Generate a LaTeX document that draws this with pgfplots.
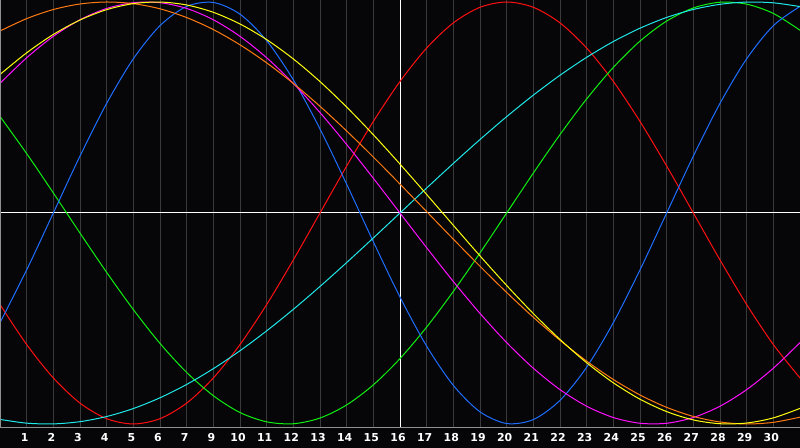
\documentclass[border=0pt]{standalone}
\usepackage{pgfplots}
\pgfplotsset{compat=1.18}
\usepackage{fontspec}
\setmainfont{DejaVu Sans}

\definecolor{bg}{HTML}{060609}
\definecolor{gridgray}{HTML}{3A3A3A}
\definecolor{framegray}{HTML}{909090}
\definecolor{cred}{HTML}{FF1010}
\definecolor{cgreen}{HTML}{10F010}
\definecolor{cblue}{HTML}{1E6EFF}
\definecolor{ccyan}{HTML}{20E8E8}
\definecolor{cmagenta}{HTML}{FF10FF}
\definecolor{cyellow}{HTML}{FFFF10}
\definecolor{corange}{HTML}{FF7A10}

\begin{document}
\begin{tikzpicture}
\path[use as bounding box] (0,-15pt) rectangle (600pt,321pt);
\fill[bg] (0,-15pt) rectangle (600pt,321pt);

\begin{axis}[%
at={(0,0)}, anchor=south west,
width=600pt, height=321pt,
scale only axis,
xmin=0, xmax=30,
ymin=-1.019, ymax=1.0095,
axis line style={draw=none},
xtick={1,...,29},
xticklabels={1,2,3,4,5,6,7,9,10,11,12,13,14,15,16,17,18,19,20,21,22,23,24,25,26,27,28,29,30},
ytick=\empty,
major tick length=0pt,
xmajorgrids,
grid style={gridgray, line width=0.75pt},
xticklabel style={anchor=center, yshift=-6.9pt, xshift=-1.5pt, text=white, font=\bfseries\fontsize{8.2}{8.2}\selectfont},
every axis plot/.append style={line width=0.75pt, smooth, no markers},
]

% axis cross
\addplot[white, sharp plot] coordinates {(15,-1.1)(15,1.1)};
\addplot[white, sharp plot] coordinates {(0,0)(30,0)};

% red, period 28
\addplot[cred] coordinates {
(0,-0.4339)(1,-0.6235)(2,-0.7818)(3,-0.9010)(4,-0.9749)(5,-1.0000)(6,-0.9749)(7,-0.9010)
(8,-0.7818)(9,-0.6235)(10,-0.4339)(11,-0.2225)(12,0.0000)(13,0.2225)(14,0.4339)(15,0.6235)
(16,0.7818)(17,0.9010)(18,0.9749)(19,1.0000)(20,0.9749)(21,0.9010)(22,0.7818)(23,0.6235)
(24,0.4339)(25,0.2225)(26,0.0000)(27,-0.2225)(28,-0.4339)(29,-0.6235)(30,-0.7818)
};

% green, period 33
\addplot[cgreen] coordinates {
(0,0.4577)(1,0.2815)(2,0.0951)(3,-0.0951)(4,-0.2815)(5,-0.4577)(6,-0.6182)(7,-0.7557)
(8,-0.8660)(9,-0.9458)(10,-0.9898)(11,-0.9989)(12,-0.9718)(13,-0.9096)(14,-0.8146)(15,-0.6901)
(16,-0.5406)(17,-0.3717)(18,-0.1893)(19,0.0000)(20,0.1893)(21,0.3717)(22,0.5406)(23,0.6901)
(24,0.8146)(25,0.9096)(26,0.9718)(27,0.9989)(28,0.9898)(29,0.9458)(30,0.8660)
};

% blue, period 23
\addplot[cblue] coordinates {
(0,-0.5196)(1,-0.2698)(2,0.0000)(3,0.2698)(4,0.5196)(5,0.7308)(6,0.8879)(7,0.9791)
(8,0.9977)(9,0.9423)(10,0.8170)(11,0.6311)(12,0.3984)(13,0.1362)(14,-0.1362)(15,-0.3984)
(16,-0.6311)(17,-0.8170)(18,-0.9423)(19,-0.9977)(20,-0.9791)(21,-0.8879)(22,-0.7308)(23,-0.5196)
(24,-0.2698)(25,0.0000)(26,0.2698)(27,0.5196)(28,0.7308)(29,0.8879)(30,0.9791)
};

% cyan, period 53
\addplot[ccyan] coordinates {
(0,-0.9783)(1,-0.9961)(2,-0.9996)(3,-0.9890)(4,-0.9646)(5,-0.9268)(6,-0.8758)(7,-0.8126)
(8,-0.7378)(9,-0.6528)(10,-0.5586)(11,-0.4566)(12,-0.3482)(13,-0.2349)(14,-0.1183)(15,0.0000)
(16,0.1183)(17,0.2349)(18,0.3482)(19,0.4566)(20,0.5586)(21,0.6528)(22,0.7378)(23,0.8126)
(24,0.8758)(25,0.9268)(26,0.9646)(27,0.9890)(28,0.9996)(29,0.9961)(30,0.9783)
};

% magenta, period 38
\addplot[cmagenta] coordinates {
(0,0.6142)(1,0.7357)(2,0.8372)(3,0.9158)(4,0.9694)(5,0.9966)(6,0.9966)(7,0.9694)
(8,0.9158)(9,0.8372)(10,0.7357)(11,0.6142)(12,0.4759)(13,0.3247)(14,0.1646)(15,0.0000)
(16,-0.1646)(17,-0.3247)(18,-0.4759)(19,-0.6142)(20,-0.7357)(21,-0.8372)(22,-0.9158)(23,-0.9694)
(24,-0.9966)(25,-0.9966)(26,-0.9694)(27,-0.9158)(28,-0.8372)(29,-0.7357)(30,-0.6142)
};

% orange, period 48
\addplot[corange] coordinates {
(0,0.8625)(1,0.9212)(2,0.9643)(3,0.9906)(4,1.0000)(5,0.9922)(6,0.9677)(7,0.9263)
(8,0.8693)(9,0.7971)(10,0.7116)(11,0.6140)(12,0.5057)(13,0.3887)(14,0.2651)(15,0.1370)
(16,0.0065)(17,-0.1241)(18,-0.2525)(19,-0.3767)(20,-0.4943)(21,-0.6034)(22,-0.7021)(23,-0.7892)
(24,-0.8625)(25,-0.9212)(26,-0.9643)(27,-0.9906)(28,-1.0000)(29,-0.9923)(30,-0.9677)
};

% yellow, period 43
\addplot[cyellow] coordinates {
(0,0.6565)(1,0.7592)(2,0.8462)(3,0.9146)(4,0.9637)(5,0.9923)(6,0.9998)(7,0.9859)
(8,0.9511)(9,0.8958)(10,0.8217)(11,0.7301)(12,0.6228)(13,0.5020)(14,0.3708)(15,0.2317)
(16,0.0876)(17,-0.0584)(18,-0.2032)(19,-0.3436)(20,-0.4767)(21,-0.5995)(22,-0.7098)(23,-0.8048)
(24,-0.8826)(25,-0.9413)(26,-0.9807)(27,-0.9987)(28,-0.9955)(29,-0.9711)(30,-0.9261)
};

\draw[framegray, line width=0.75pt] (rel axis cs:1,0) -- (rel axis cs:0,0) -- (rel axis cs:0,1) -- (rel axis cs:1,1);
\end{axis}
\end{tikzpicture}
\end{document}
